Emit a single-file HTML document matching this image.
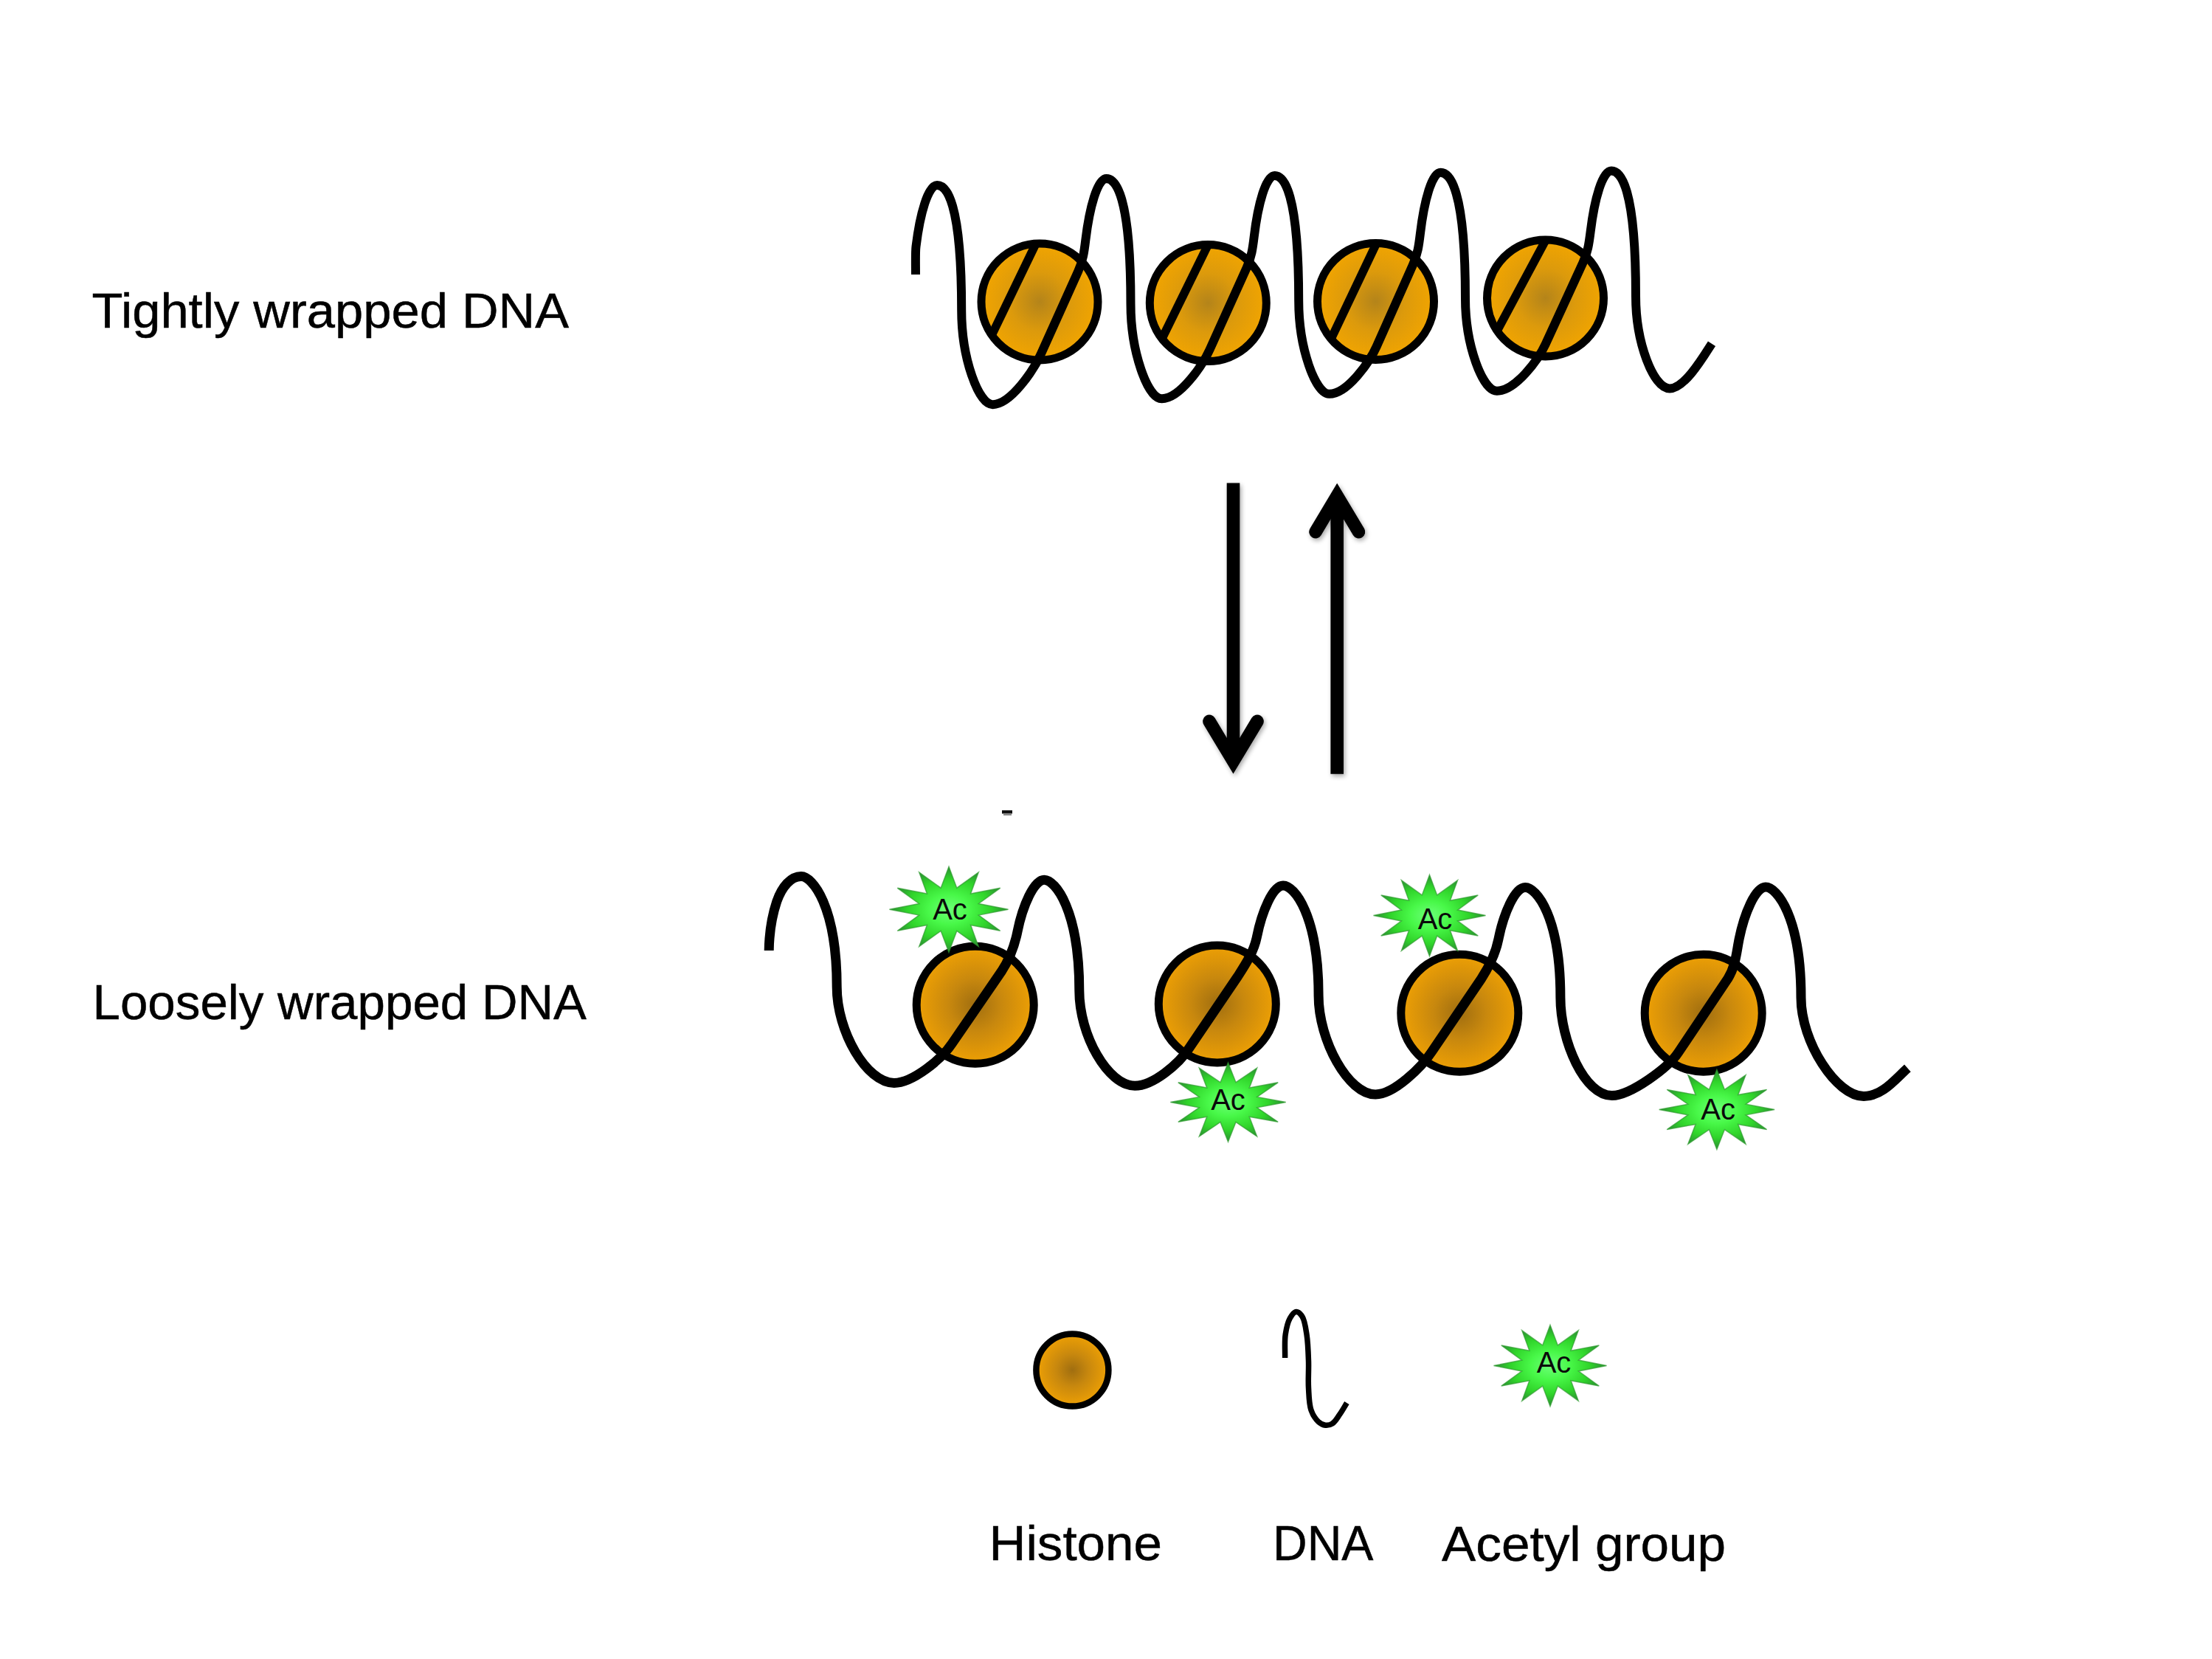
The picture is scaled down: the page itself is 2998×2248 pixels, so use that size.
<!DOCTYPE html>
<html><head><meta charset="utf-8"><style>
html,body{margin:0;padding:0;background:#fff;width:2998px;height:2248px;overflow:hidden;}
svg{display:block;font-family:"Liberation Sans", sans-serif;}
</style></head><body>
<svg width="2998" height="2248" viewBox="0 0 2998 2248">
<defs>
<radialGradient id="hg" cx="50%" cy="50%" r="50%">
<stop offset="0" stop-color="#B4841A"/>
<stop offset="0.5" stop-color="#DC9A0C"/>
<stop offset="1" stop-color="#F2A500"/>
</radialGradient>
<radialGradient id="hg2" cx="50%" cy="50%" r="50%">
<stop offset="0" stop-color="#A06E10"/>
<stop offset="0.45" stop-color="#C8880E"/>
<stop offset="1" stop-color="#EEA004"/>
</radialGradient>
<radialGradient id="sg" cx="50%" cy="50%" r="50%">
<stop offset="0" stop-color="#6CFF78"/>
<stop offset="0.35" stop-color="#48F848"/>
<stop offset="0.7" stop-color="#30D42A"/>
<stop offset="1" stop-color="#2A8C34"/>
</radialGradient>
<filter id="sh" x="-20%" y="-5%" width="140%" height="110%">
<feGaussianBlur in="SourceAlpha" stdDeviation="3"/>
<feOffset dx="2" dy="3" result="b"/>
<feComponentTransfer><feFuncA type="linear" slope="0.35"/></feComponentTransfer>
<feMerge><feMergeNode/><feMergeNode in="SourceGraphic"/></feMerge>
</filter>
</defs>
<rect width="2998" height="2248" fill="#FFFFFF"/>
<clipPath id="cc0"><circle cx="1409.0" cy="409.0" r="80"/></clipPath>
<circle cx="1409.0" cy="409.0" r="80" fill="url(#hg)"/>
<line x1="1411.5" y1="314.5" x2="1339.7" y2="463.3" stroke="#000" stroke-width="11.5" clip-path="url(#cc0)"/>
<circle cx="1409.0" cy="409.0" r="79" fill="none" stroke="#000" stroke-width="11"/>
<clipPath id="cc1"><circle cx="1637.3" cy="410.6" r="80"/></clipPath>
<circle cx="1637.3" cy="410.6" r="80" fill="url(#hg)"/>
<line x1="1642.4" y1="321.3" x2="1571.8" y2="465.1" stroke="#000" stroke-width="11.5" clip-path="url(#cc1)"/>
<circle cx="1637.3" cy="410.6" r="79" fill="none" stroke="#000" stroke-width="11"/>
<clipPath id="cc2"><circle cx="1864.5" cy="408.5" r="80"/></clipPath>
<circle cx="1864.5" cy="408.5" r="80" fill="url(#hg)"/>
<line x1="1871.4" y1="317.4" x2="1801.4" y2="464.7" stroke="#000" stroke-width="11.5" clip-path="url(#cc2)"/>
<circle cx="1864.5" cy="408.5" r="79" fill="none" stroke="#000" stroke-width="11"/>
<clipPath id="cc3"><circle cx="2094.5" cy="404.0" r="80"/></clipPath>
<circle cx="2094.5" cy="404.0" r="80" fill="url(#hg)"/>
<line x1="2101.1" y1="313.8" x2="2025.4" y2="455.1" stroke="#000" stroke-width="11.5" clip-path="url(#cc3)"/>
<circle cx="2094.5" cy="404.0" r="79" fill="none" stroke="#000" stroke-width="11"/>
<path d="M1241.0 372.0 C1241.0 361.0 1240.5 341.9 1241.5 334.0 C1246.9 289.3 1258.0 251.0 1270.0 251.0 C1282.1 250.8 1303.2 270.4 1303.2 420.4 C1303.2 485.7 1326.4 548.5 1345.5 548.2 C1370.7 547.7 1401.8 499.8 1410.9 479.5 L1461.2 367.7 C1467.9 353.0 1469.4 341.4 1471.3 325.5 C1476.7 280.7 1487.4 242.2 1499.5 242.0 C1511.5 242.1 1532.5 262.1 1532.5 412.1 C1532.5 477.1 1555.5 540.2 1574.6 540.3 C1599.6 540.4 1630.6 493.6 1639.6 473.6 L1689.7 362.8 C1696.2 348.3 1697.8 336.8 1699.7 320.9 C1705.0 276.2 1715.7 237.9 1727.7 238.0 C1739.5 238.0 1760.2 258.1 1760.2 408.1 C1760.2 471.9 1782.9 533.7 1801.6 533.8 C1826.3 533.9 1856.8 489.5 1865.7 469.5 L1915.0 358.7 C1921.5 344.1 1923.0 332.6 1924.9 316.7 C1930.2 272.0 1940.7 233.8 1952.5 233.8 C1964.7 233.9 1986.0 254.2 1986.0 404.2 C1986.0 467.7 2009.4 529.5 2028.7 529.7 C2054.0 530.0 2085.5 486.4 2094.6 466.5 L2145.4 356.1 C2152.1 341.5 2153.6 330.0 2155.6 314.2 C2161.0 269.6 2171.8 231.4 2184.0 231.5 C2196.0 231.5 2217.0 251.5 2217.0 401.5 C2217.0 464.5 2241.0 526.5 2263.0 526.5 C2283.0 526.5 2308.0 484.5 2320.0 465.7" fill="none" stroke="#000" stroke-width="12" stroke-linejoin="round"/>
<circle cx="1321.7" cy="1361.8" r="79.5" fill="url(#hg2)" stroke="#000" stroke-width="11"/>
<circle cx="1649.8" cy="1360.5" r="79.5" fill="url(#hg2)" stroke="#000" stroke-width="11"/>
<circle cx="1978.3" cy="1372.8" r="79.5" fill="url(#hg2)" stroke="#000" stroke-width="11"/>
<circle cx="2308.7" cy="1372.7" r="79.5" fill="url(#hg2)" stroke="#000" stroke-width="11"/>
<path d="M1042.2 1288.0 C1042.5 1267.5 1045.8 1242.5 1052.8 1221.5 C1059.8 1201.5 1071.8 1187.5 1085.8 1187.5 C1100.9 1187.5 1134.2 1227.5 1134.2 1337.5 C1134.2 1397.5 1174.5 1467.4 1211.8 1467.4 C1236.9 1467.4 1276.7 1434.8 1290.5 1413.8 L1357.7 1315.8 C1368.6 1299.0 1375.1 1281.8 1379.0 1262.2 C1385.9 1227.9 1401.2 1192.2 1415.3 1192.2 C1430.1 1192.3 1462.8 1232.6 1462.8 1342.6 C1462.8 1402.6 1501.4 1470.9 1538.0 1471.3 C1562.8 1471.5 1598.1 1441.2 1611.6 1420.4 L1677.6 1323.0 C1688.4 1306.3 1699.5 1289.3 1703.4 1269.7 C1710.2 1235.4 1725.1 1199.9 1739.0 1200.0 C1754.0 1199.9 1787.1 1239.6 1787.1 1349.6 C1787.1 1409.6 1827.3 1483.3 1864.4 1483.0 C1889.5 1482.9 1926.9 1446.0 1940.6 1425.0 L2007.5 1326.5 C2018.5 1309.6 2027.0 1292.4 2030.9 1272.8 C2037.8 1238.4 2053.0 1202.6 2067.0 1202.5 C2082.0 1202.2 2114.9 1241.7 2114.9 1351.7 C2114.9 1411.7 2148.2 1485.1 2185.0 1484.5 C2210.0 1484.1 2261.5 1446.7 2275.1 1425.5 L2341.6 1326.4 C2352.4 1309.4 2353.2 1292.3 2357.1 1272.6 C2364.0 1238.2 2379.0 1202.2 2393.0 1202.0 C2408.0 1202.0 2441.0 1242.0 2441.0 1352.0 C2441.0 1412.0 2489.0 1485.5 2526.0 1485.5 C2551.0 1485.5 2569.0 1462.0 2585.4 1447.3" fill="none" stroke="#000" stroke-width="13" stroke-linejoin="round"/>
<path d="M1286.0 1174.3 L1296.8 1203.2 L1326.2 1182.1 L1315.6 1211.0 L1355.7 1203.3 L1326.4 1224.5 L1366.5 1232.3 L1326.4 1240.1 L1355.7 1261.3 L1315.6 1253.6 L1326.2 1282.5 L1296.8 1261.4 L1286.0 1290.3 L1275.2 1261.4 L1245.8 1282.5 L1256.4 1253.6 L1216.3 1261.3 L1245.6 1240.1 L1205.5 1232.3 L1245.6 1224.5 L1216.3 1203.3 L1256.4 1211.0 L1245.8 1182.1 L1275.2 1203.2Z" fill="url(#sg)" stroke="#2E9A2E" stroke-width="1.5" stroke-opacity="0.7" stroke-linejoin="miter"/>
<text x="1287.5" y="1246.0" font-family="Liberation Sans" font-size="40" text-anchor="middle" fill="#0A0A0A">Ac</text>
<path d="M1937.5 1185.5 L1947.7 1212.9 L1975.5 1192.9 L1965.4 1220.3 L2003.3 1213.0 L1975.7 1233.1 L2013.5 1240.5 L1975.7 1247.9 L2003.3 1268.0 L1965.4 1260.7 L1975.5 1288.1 L1947.7 1268.1 L1937.5 1295.5 L1927.3 1268.1 L1899.5 1288.1 L1909.6 1260.7 L1871.7 1268.0 L1899.3 1247.9 L1861.5 1240.5 L1899.3 1233.1 L1871.7 1213.0 L1909.6 1220.3 L1899.5 1192.9 L1927.3 1212.9Z" fill="url(#sg)" stroke="#2E9A2E" stroke-width="1.5" stroke-opacity="0.7" stroke-linejoin="miter"/>
<text x="1945.0" y="1258.8" font-family="Liberation Sans" font-size="40" text-anchor="middle" fill="#0A0A0A">Ac</text>
<path d="M1664.5 1440.1 L1675.0 1466.7 L1703.6 1447.3 L1693.3 1473.9 L1732.2 1466.8 L1703.8 1486.4 L1742.7 1493.6 L1703.8 1500.8 L1732.2 1520.3 L1693.3 1513.3 L1703.6 1539.9 L1675.0 1520.5 L1664.5 1547.1 L1654.0 1520.5 L1625.4 1539.9 L1635.7 1513.3 L1596.8 1520.3 L1625.2 1500.8 L1586.3 1493.6 L1625.2 1486.4 L1596.8 1466.8 L1635.7 1473.9 L1625.4 1447.3 L1654.0 1466.7Z" fill="url(#sg)" stroke="#2E9A2E" stroke-width="1.5" stroke-opacity="0.7" stroke-linejoin="miter"/>
<text x="1664.5" y="1503.9" font-family="Liberation Sans" font-size="40" text-anchor="middle" fill="#0A0A0A">Ac</text>
<path d="M2326.9 1449.5 L2337.4 1476.4 L2366.0 1456.7 L2355.7 1483.6 L2394.6 1476.5 L2366.2 1496.2 L2405.1 1503.5 L2366.2 1510.8 L2394.6 1530.5 L2355.7 1523.4 L2366.0 1550.3 L2337.4 1530.6 L2326.9 1557.5 L2316.4 1530.6 L2287.8 1550.3 L2298.1 1523.4 L2259.2 1530.5 L2287.6 1510.8 L2248.7 1503.5 L2287.6 1496.2 L2259.2 1476.5 L2298.1 1483.6 L2287.8 1456.7 L2316.4 1476.4Z" fill="url(#sg)" stroke="#2E9A2E" stroke-width="1.5" stroke-opacity="0.7" stroke-linejoin="miter"/>
<text x="2328.6" y="1516.5" font-family="Liberation Sans" font-size="40" text-anchor="middle" fill="#0A0A0A">Ac</text>
<path d="M2101.0 1795.5 L2111.3 1822.9 L2139.2 1802.9 L2129.1 1830.3 L2167.3 1823.0 L2139.4 1843.1 L2177.5 1850.5 L2139.4 1857.9 L2167.3 1878.0 L2129.1 1870.7 L2139.2 1898.1 L2111.3 1878.1 L2101.0 1905.5 L2090.7 1878.1 L2062.8 1898.1 L2072.9 1870.7 L2034.7 1878.0 L2062.6 1857.9 L2024.5 1850.5 L2062.6 1843.1 L2034.7 1823.0 L2072.9 1830.3 L2062.8 1802.9 L2090.7 1822.9Z" fill="url(#sg)" stroke="#2E9A2E" stroke-width="1.5" stroke-opacity="0.7" stroke-linejoin="miter"/>
<text x="2106.0" y="1859.5" font-family="Liberation Sans" font-size="40" text-anchor="middle" fill="#0A0A0A">Ac</text>
<rect x="1358" y="1098" width="14" height="4.5" fill="#111"/><rect x="1360" y="1102" width="11" height="3" fill="#888"/>
<g filter="url(#sh)">
<line x1="1671.5" y1="654.6" x2="1671.5" y2="1030" stroke="#000" stroke-width="17.6"/>
<path d="M1639 977.4 L1671.5 1031.5 L1704 977.4" fill="none" stroke="#000" stroke-width="17.6" stroke-linecap="round" stroke-linejoin="miter" stroke-miterlimit="10"/>
<line x1="1812.2" y1="1048.7" x2="1812.2" y2="675" stroke="#000" stroke-width="17.6"/>
<path d="M1783 720.7 L1812.2 671.8 L1841.5 720.7" fill="none" stroke="#000" stroke-width="17.6" stroke-linecap="round" stroke-linejoin="miter" stroke-miterlimit="10"/>
</g>
<circle cx="1453.4" cy="1856.5" r="49" fill="url(#hg2)" stroke="#000" stroke-width="8.5"/>
<path d="M1741.6 1840.0 C1741.8 1829.4 1740.8 1817.7 1742.2 1808.2 C1743.4 1800.2 1745.2 1791.9 1748.2 1786.5 C1750.5 1782.5 1753.8 1777.7 1756.7 1777.5 C1759.4 1777.3 1762.8 1780.6 1765.0 1784.0 C1768.4 1789.2 1769.6 1799.3 1771.0 1808.2 C1772.7 1819.0 1773.1 1832.3 1773.5 1844.4 C1773.9 1856.5 1772.8 1869.1 1773.5 1880.6 C1774.1 1891.1 1774.1 1902.5 1777.0 1910.7 C1779.2 1917.1 1783.0 1922.9 1786.8 1926.4 C1789.7 1929.0 1793.1 1930.8 1796.4 1931.2 C1799.5 1931.5 1803.1 1930.7 1806.0 1928.8 C1809.7 1926.5 1812.6 1921.1 1815.7 1916.7 C1819.1 1911.9 1822.2 1906.2 1825.4 1901.0" fill="none" stroke="#000" stroke-width="7.5" stroke-linejoin="round"/>
<text x="124.50" y="444.25" font-family="Liberation Sans" font-size="67" textLength="646.50" lengthAdjust="spacingAndGlyphs" fill="#000" stroke="#000" stroke-width="0.5">Tightly wrapped DNA</text>
<text x="125.50" y="1380.75" font-family="Liberation Sans" font-size="67" textLength="669.50" lengthAdjust="spacingAndGlyphs" fill="#000" stroke="#000" stroke-width="0.5">Loosely wrapped DNA</text>
<text x="1340.50" y="2114.25" font-family="Liberation Sans" font-size="67" textLength="234.50" lengthAdjust="spacingAndGlyphs" fill="#000" stroke="#000" stroke-width="0.5">Histone</text>
<text x="1725.00" y="2114.25" font-family="Liberation Sans" font-size="67" textLength="136.50" lengthAdjust="spacingAndGlyphs" fill="#000" stroke="#000" stroke-width="0.5">DNA</text>
<text x="1954.10" y="2114.90" font-family="Liberation Sans" font-size="67" textLength="385.00" lengthAdjust="spacingAndGlyphs" fill="#000" stroke="#000" stroke-width="0.5">Acetyl group</text>
</svg>
</body></html>
